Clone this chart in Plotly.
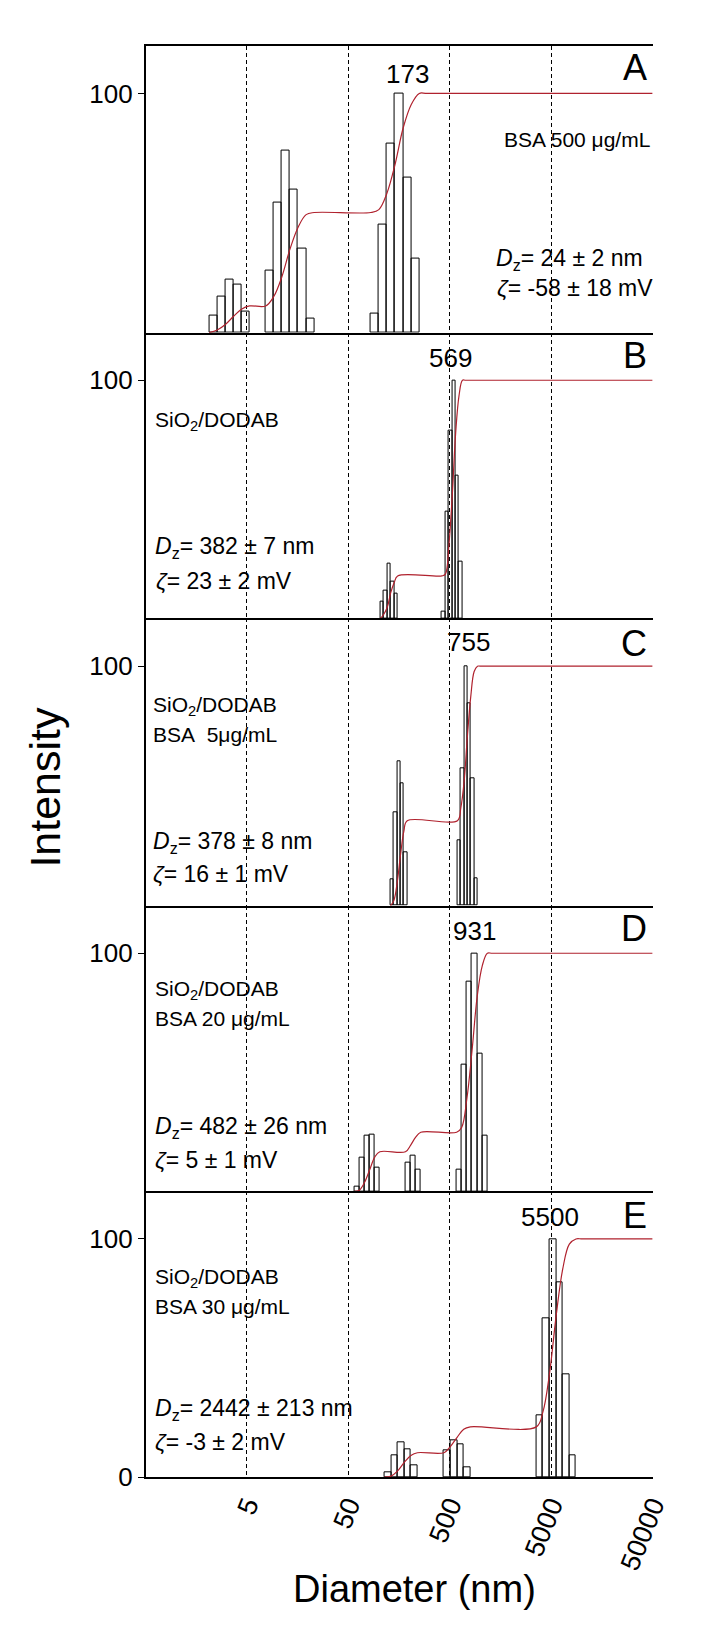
import numpy as np
import plotly.graph_objects as go

# Bin centres (nm) and intensities (non-empty size classes only)
D_A = [2.32, 2.79, 3.35, 4.02, 4.83,
       8.38, 10.07, 12.10, 14.53, 17.47, 20.98,
       91.1, 109.4, 131.5, 157.9, 189.7, 228.0]
I_A = [7.2, 15.1, 22.2, 20.1, 8.9,
       25.9, 54.3, 76.2, 60.0, 35.2, 5.8,
       8.0, 45.0, 79.1, 100, 65.0, 31.0]

D_B = [107.9, 116.7, 126.0, 136.2, 147.2,
       435.3, 470.6, 508.3, 549.3, 593.5, 641.5]
I_B = [6.9, 11.5, 22.8, 15.6, 10.5,
       2.8, 45.0, 79.0, 100, 60.0, 24.0]

D_C = [135.1, 145.8, 157.3, 169.7, 183.1,
       617.6, 666.3, 718.9, 775.6, 836.9, 902.9]
I_C = [10.9, 39.0, 60.1, 51.0, 22.4,
       27.3, 57.3, 100, 84.3, 53.2, 11.4]

D_D = [60.5, 67.96, 76.3, 85.8, 96.3,
       193.5, 217.4, 244.2,
       619.0, 695.5, 781.0, 877.5, 985.6, 1107]
I_D = [2.1, 14.1, 23.2, 24.0, 9.9,
       12.0, 15.0, 9.3,
       9.3, 53.1, 88.0, 100, 58.0, 23.3]

D_E = [122.3, 142.1, 165.1, 191.8, 222.8,
       471.6, 547.7, 636.3, 739.2,
       3843, 4465, 5188, 6027, 7002, 8134]
I_E = [1.9, 9.0, 14.7, 11.9, 5.0,
       11.2, 15.6, 14.0, 4.1,
       26.0, 66.8, 100, 81.6, 43.1, 9.0]

# width of one size class, in decades
BIN_W = [0.0797, 0.03365, 0.033, 0.0505, 0.0651]

PANEL_LABELS = ["A", "B", "C", "D", "E"]
PEAK_LABELS = ["173", "569", "755", "931", "5500"]
X_TICKS = [5, 50, 500, 5000, 50000]
X_MIN, X_MAX = 0.5, 50000

SAMPLES = [
    ["BSA 500 μg/mL"],
    ["SiO<sub>2</sub>/DODAB"],
    ["SiO<sub>2</sub>/DODAB", "BSA\u00a0 5μg/mL"],
    ["SiO<sub>2</sub>/DODAB", "BSA 20 μg/mL"],
    ["SiO<sub>2</sub>/DODAB", "BSA 30 μg/mL"],
]
DZ = ["24 ± 2 nm", "382 ± 7 nm", "378 ± 8 nm", "482 ± 26 nm", "2442 ± 213 nm"]
ZETA = ["-58 ± 18 mV", "23 ± 2 mV", "16 ± 1 mV", "5 ± 1 mV", "-3 ± 2 mV"]

DIAMS = [D_A, D_B, D_C, D_D, D_E]
INTS = [I_A, I_B, I_C, I_D, I_E]

W, H = 722, 1642
FONT = "Arial, Liberation Sans, sans-serif"
RED = "#B0222E"

# plot area, in pixels
LEFT, RIGHT = 149.3, 669.3
PANEL_EDGES = [46, 335.7, 624, 914, 1202.3, 1490.8]


def px(x, y):
    """pixel -> paper fraction"""
    return x / W, 1 - y / H


def edges(d, w):
    d = np.asarray(d, float)
    return d * 10 ** (-w / 2), d * 10 ** (w / 2)


def cumulative(d, h, w):
    # running share of intensity, plotted at the upper edge of each class
    lo, hi = edges(d, w)
    cum = np.cumsum(h) / np.sum(h) * 100
    xs, ys = [lo[0]], [0.0]
    for i in range(len(lo)):
        if i > 0 and lo[i] > hi[i - 1] * 10 ** (w / 4):
            xs.append(lo[i])
            ys.append(cum[i - 1])
        xs.append(hi[i])
        ys.append(cum[i])
    xs += [hi[-1] * 10 ** w, X_MAX]
    ys += [100, 100]
    return xs, ys


fig = go.Figure()
annotations = []

for k in range(5):
    n = "" if k == 0 else str(k + 1)
    d, h, w = DIAMS[k], INTS[k], BIN_W[k]
    lo, hi = edges(d, w)
    fig.add_trace(go.Bar(
        x=lo, y=h, width=hi - lo, offset=0,
        marker=dict(color="rgba(0,0,0,0)", line=dict(color="black", width=1)),
        xaxis="x" + n, yaxis="y" + n,
    ))
    cx, cy = cumulative(d, h, w)
    fig.add_trace(go.Scatter(
        x=cx, y=cy, mode="lines",
        line=dict(color=RED, width=1.2, shape="spline", smoothing=1),
        xaxis="x" + n, yaxis="y" + n,
    ))

    top, bot = PANEL_EDGES[k], PANEL_EDGES[k + 1]
    last = k == 4
    fig.update_layout(**{
        "xaxis" + n: dict(
            domain=[LEFT / W, RIGHT / W], anchor="y" + n, type="log",
            range=[np.log10(X_MIN), np.log10(X_MAX)],
            showgrid=True, gridcolor="black", gridwidth=1, griddash="4px,3px",
            tickvals=X_TICKS, ticktext=[str(v) for v in X_TICKS],
            showticklabels=last, ticks="", tickangle=-68,
            tickfont=dict(size=27, family=FONT, color="black"),
            showline=True, linecolor="black", linewidth=1.5,
            mirror=(k == 0), zeroline=False,
        ),
        "yaxis" + n: dict(
            domain=[1 - bot / H, 1 - top / H], anchor="x" + n,
            range=[0, 120], tickvals=[0, 100] if last else [100],
            ticks="outside", ticklen=6, tickwidth=1, tickcolor="black",
            tickfont=dict(size=26, family=FONT, color="black"),
            showline=True, linecolor="black", linewidth=1.5,
            showgrid=False, zeroline=False,
        ),
    })

# per-panel text positions, in pixels
LETTER_Y = [68.3, 359, 649, 937.5, 1227]
PEAK_XY = [(418, 74.2), (462, 361), (480, 648), (487, 940), (564.5, 1228)]
SAMPLE_XY = [(515, [141]), (157, [425]), (155, [712.5, 741]),
             (157, [999, 1028]), (157, [1290, 1319])]
DZ_XY = [(507, 262), (157, 553), (155, 850), (157, 1138), (157, 1422)]
ZETA_XY = [(508, 291), (158, 586), (155, 882), (157, 1171), (157, 1455)]


def add_text(x, y, text, size, xanchor="left", **kw):
    ax, ay = px(x, y)
    annotations.append(dict(
        x=ax, y=ay, xref="paper", yref="paper", text=text, showarrow=False,
        xanchor=xanchor, yanchor="middle",
        font=dict(size=size, family=FONT, color="black"), **kw,
    ))


for k in range(5):
    add_text(666, LETTER_Y[k], PANEL_LABELS[k], 36, xanchor="right")
    add_text(*PEAK_XY[k], PEAK_LABELS[k], 26, xanchor="center")
    sx, sys_ = SAMPLE_XY[k]
    for line, yy in zip(SAMPLES[k], sys_):
        add_text(sx, yy, line, 21)
    add_text(*DZ_XY[k], "<i>D</i><sub>z</sub>= " + DZ[k], 23)
    add_text(*ZETA_XY[k], "<i>ζ</i>= " + ZETA[k], 23)

add_text(425, 1604, "Diameter (nm)", 38, xanchor="center")
add_text(46, 794, "Intensity", 43, xanchor="center", textangle=-90)

fig.update_layout(
    width=W, height=H,
    margin=dict(l=0, r=0, t=0, b=0),
    paper_bgcolor="white", plot_bgcolor="white",
    showlegend=False, bargap=0,
    annotations=annotations,
    font=dict(family=FONT, color="black"),
)

# drop the browser's default body margin so the figure sits at the page origin
fig.write_html(
    "out.html",
    config={"displayModeBar": False},
    post_script="document.body.style.margin = '0';",
)
